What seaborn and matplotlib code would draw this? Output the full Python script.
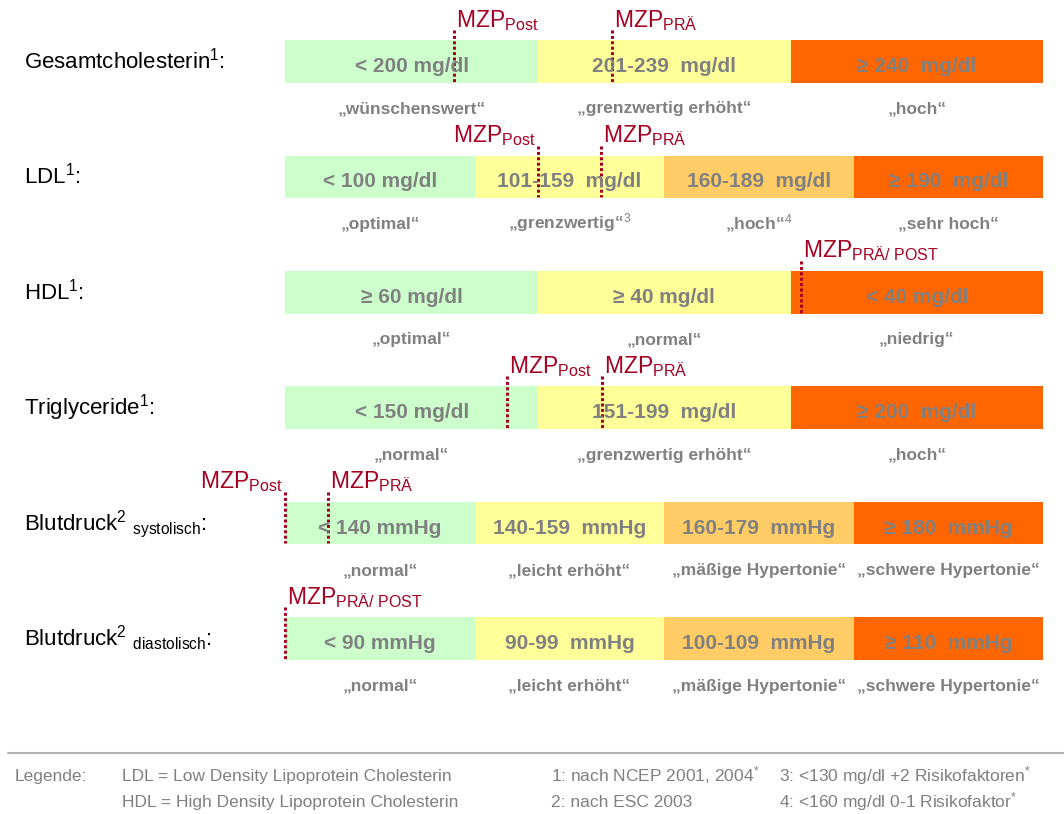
import matplotlib
matplotlib.use("Agg")
import matplotlib.pyplot as plt
import matplotlib.transforms as mtransforms
from matplotlib.lines import Line2D
import pandas as pd
import seaborn as sns

# ---- data ----
row_labels = [
    r"Gesamtcholesterin$^{1}$:",
    r"LDL$^{1}$:",
    r"HDL$^{1}$:",
    r"Triglyceride$^{1}$:",
    r"Blutdruck$^{2}$ $_{\mathrm{systolisch}}$:",
    r"Blutdruck$^{2}$ $_{\mathrm{diastolisch}}$:",
]
range_labels = [
    ["< 200 mg/dl", "201-239  mg/dl", "≥ 240  mg/dl"],
    ["< 100 mg/dl", "101-159  mg/dl", "160-189  mg/dl", "≥ 190  mg/dl"],
    ["≥ 60 mg/dl", "≥ 40 mg/dl", "< 40 mg/dl"],
    ["< 150 mg/dl", "151-199  mg/dl", "≥ 200  mg/dl"],
    ["< 140 mmHg", "140-159  mmHg", "160-179  mmHg", "≥ 180  mmHg"],
    ["< 90 mmHg", "90-99  mmHg", "100-109  mmHg", "≥ 110  mmHg"],
]
class_labels = [
    ["„wünschenswert“", "„grenzwertig erhöht“", "„hoch“"],
    ["„optimal“", "„grenzwertig“$^{3}$", "„hoch“$^{4}$", "„sehr hoch“"],
    ["„optimal“", "„normal“", "„niedrig“"],
    ["„normal“", "„grenzwertig erhöht“", "„hoch“"],
    ["„normal“", "„leicht erhöht“", "„mäßige Hypertonie“", "„schwere Hypertonie“"],
    ["„normal“", "„leicht erhöht“", "„mäßige Hypertonie“", "„schwere Hypertonie“"],
]
# marker positions as fraction of the bar length
post_pos = [0.223, 0.334, 0.680, 0.292, 0.0, 0.0]
pre_pos = [0.431, 0.417, 0.680, 0.418, 0.056, 0.0]
post_align = ["left", "right", "left", "left", "right", "left"]

legend_left = ["LDL = Low Density Lipoprotein Cholesterin",
               "HDL = High Density Lipoprotein Cholesterin"]
legend_mid = [r"1: nach NCEP 2001, 2004$^{*}$", "2: nach ESC 2003"]
legend_right = [r"3: <130 mg/dl +2 Risikofaktoren$^{*}$",
                r"4: <160 mg/dl 0-1 Risikofaktor$^{*}$"]

GREEN, YELLOW, AMBER, ORANGE = "#CCFFCC", "#FFFF99", "#FFCC66", "#FF6600"
GREY, RED = "#808080", "#A50021"

sns.set_theme(style="white")
plt.rcParams["font.family"] = ["Liberation Sans", "DejaVu Sans"]
plt.rcParams["mathtext.fontset"] = "custom"
plt.rcParams["mathtext.rm"] = "Liberation Sans"
plt.rcParams["mathtext.it"] = "Liberation Sans:italic"
plt.rcParams["mathtext.bf"] = "Liberation Sans:bold"

W, H = 1064, 814
BAR_L, BAR_R = 285.3, 1043.3
ROW0, STEP = 61.5, 115.4
bar_w = BAR_R - BAR_L
BAR_H = 42.5 / STEP
PT = 0.72  # points per pixel at dpi 100

fig = plt.figure(figsize=(W / 100, H / 100), dpi=100)
ax = fig.add_axes([0, 0, 1, 1])
ax.set_xlim(-BAR_L / bar_w, (W - BAR_L) / bar_w)
ax.set_ylim((H - ROW0) / STEP, -ROW0 / STEP)
ax.axis("off")

rows = []
for i, labels in enumerate(range_labels):
    n = len(labels)
    pal = [GREEN, YELLOW, ORANGE] if n == 3 else [GREEN, YELLOW, AMBER, ORANGE]
    for k, lab in enumerate(labels):
        rows.append(dict(row=i, left=k / n, width=1 / n, color=pal[k],
                         text=lab, cls=class_labels[i][k]))
seg = pd.DataFrame(rows)

ax.barh(seg["row"], seg["width"], left=seg["left"], height=BAR_H,
        color=seg["color"], linewidth=0)

for _, s in seg.iterrows():
    xc = s["left"] + s["width"] / 2
    ax.annotate(s["text"], (xc, s["row"]), xytext=(0, -10.5 * PT),
                textcoords="offset points", ha="center", va="baseline",
                fontsize=15, fontweight="bold", color=GREY)
    ax.annotate(s["cls"], (xc, s["row"]), xytext=(0, -52 * PT),
                textcoords="offset points", ha="center", va="baseline",
                fontsize=12.5, fontweight="bold", color=GREY)

# row titles
lab_tr = mtransforms.blended_transform_factory(ax.transAxes, ax.transData)
for i, lab in enumerate(row_labels):
    ax.annotate(lab, (24 / W, i), xycoords=lab_tr, xytext=(0, -7 * PT),
                textcoords="offset points", ha="left", va="baseline",
                fontsize=16, color="black")

# MZP markers
def marker(x, row, sub, align):
    top = row - BAR_H / 2 - 10 / STEP
    bot = row + BAR_H / 2 - 1 / STEP
    ax.vlines(x, top, bot, colors=RED, linewidth=3 * PT,
              linestyles=(0, (1, 0.8)))
    dx = 2 if align == "left" else -3
    ax.annotate(r"MZP$_{\mathrm{%s}}$" % sub, (x, row),
                xytext=(dx * PT, (BAR_H / 2 * STEP + 13.5) * PT),
                textcoords="offset points", ha=align, va="baseline",
                fontsize=16.5, color=RED)

for i in range(len(row_labels)):
    if post_pos[i] == pre_pos[i]:
        marker(post_pos[i], i, r"PRÄ/\ POST", "left")
    else:
        marker(post_pos[i], i, "Post", post_align[i])
        marker(pre_pos[i], i, "PRÄ", "left")

# footer
fig.add_artist(Line2D([8 / W, 1], [1 - 753 / H] * 2, transform=fig.transFigure,
                      color="#B3B3B3", linewidth=1.5))
leg_font = ["Liberation Sans Narrow", "Liberation Sans"]
fig.text(15 / W, 1 - 781 / H, "Legende:", fontsize=12.5, color=GREY,
         family=leg_font, va="baseline")
for j in range(2):
    y = 1 - (781 + 26 * j) / H
    fig.text(122 / W, y, legend_left[j], fontsize=12.5, color=GREY,
             family=leg_font, va="baseline")
    fig.text(551 / W, y, legend_mid[j], fontsize=12.5, color=GREY,
             family=leg_font, va="baseline")
    fig.text(779 / W, y, legend_right[j], fontsize=12.5, color=GREY,
             family=leg_font, va="baseline")

fig.savefig("out.png", dpi=100)
